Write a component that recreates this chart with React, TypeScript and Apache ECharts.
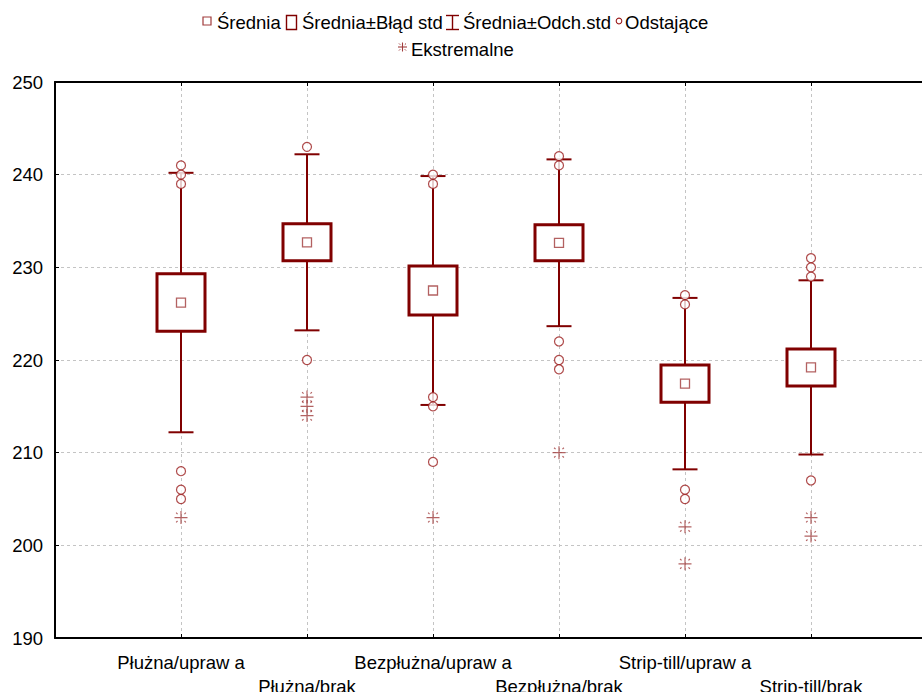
import React, { useEffect, useRef } from "react";
import * as echarts from "echarts";

// Groups (tillage / treatment)
const categories = [
  "Płużna/upraw a",
  "Płużna/brak",
  "Bezpłużna/upraw a",
  "Bezpłużna/brak",
  "Strip-till/upraw a",
  "Strip-till/brak",
];
const means = [226.2, 232.7, 227.5, 232.65, 217.45, 219.2];
const stdErrors = [3.1, 2.0, 2.65, 1.95, 2.0, 2.0];
const stdDevs = [14.0, 9.5, 12.35, 9.0, 9.25, 9.4];
const outliers = [
  [241, 240, 239, 208, 206, 205],
  [243, 220],
  [240, 239, 216, 215, 209],
  [242, 241, 222, 220, 219],
  [227, 226, 206, 205],
  [231, 230, 229, 207],
];
const extremes = [[203], [216, 215, 214], [203], [210], [202, 198], [203, 201]];
const yTicks = [190, 200, 210, 220, 230, 240, 250];

const DARK = "#800000";
const MEAN_C = "#a03a3a";
const OUT_C = "#9a1c1c";
const EXT_C = "#a03c3c";
const FONT = "Liberation Sans, Arial, sans-serif";
const FS = 18.5;

const ASTERISK =
  "path://M6 0L6 12M0 6L12 6M1.5 1.5L2.8 2.8M10.5 1.5L9.2 2.8M1.5 10.5L2.8 9.2M10.5 10.5L9.2 9.2";

export default function App() {
  const ref = useRef<HTMLDivElement>(null);

  useEffect(() => {
    if (!ref.current) return;
    const chart = echarts.init(ref.current, null, { renderer: "svg" });

    const pos = categories.map((_, i) => i + 1);
    const sdData = pos.map((x, i) => [x, means[i], stdDevs[i]]);
    const seData = pos.map((x, i) => [x, means[i], stdErrors[i]]);
    const meanData = pos.map((x, i) => [x, means[i]]);
    const outData: number[][] = [];
    outliers.forEach((arr, i) => arr.forEach((v) => outData.push([pos[i], v])));
    const extData: number[][] = [];
    extremes.forEach((arr, i) => arr.forEach((v) => extData.push([pos[i], v])));

    const gridLine = { show: true, lineStyle: { color: "#c4c4c4", type: [3, 3] as any, width: 1 } };
    const legendText = (text: string, x: number, y: number) => ({
      type: "text",
      x,
      y,
      style: { text, font: `${FS}px ${FONT}`, fill: "#000", verticalAlign: "middle" },
    });

    const option: any = {
      animation: false,
      backgroundColor: "#ffffff",
      grid: { left: 55, top: 82, width: 882, height: 556, containLabel: false, outerBoundsMode: "none" },
      xAxis: [
        {
          type: "value",
          position: "bottom",
          min: 0,
          max: 7,
          interval: 1,
          axisLine: { show: true, lineStyle: { color: "#000", width: 2 } },
          axisTick: { show: true, inside: true, length: 4, lineStyle: { color: "#000", width: 1 } },
          splitLine: gridLine,
          axisLabel: {
            show: true,
            margin: 12,
            fontFamily: FONT,
            fontSize: FS,
            color: "#000",
            lineHeight: 24,
            showMinLabel: false,
            showMaxLabel: false,
            hideOverlap: false,
            formatter: (v: number) => {
              const i = Math.round(v) - 1;
              if (i < 0 || i >= categories.length) return "";
              return i % 2 === 0 ? categories[i] : "\n" + categories[i];
            },
          },
        },
        {
          type: "value",
          position: "top",
          min: 0,
          max: 7,
          interval: 1,
          axisLine: { show: true, lineStyle: { color: "#000", width: 2 } },
          axisTick: { show: true, inside: true, length: 4, lineStyle: { color: "#000", width: 1 } },
          splitLine: { show: false },
          axisLabel: { show: false },
        },
      ],
      yAxis: {
        type: "value",
        min: yTicks[0],
        max: yTicks[yTicks.length - 1],
        interval: 10,
        axisLine: { show: true, lineStyle: { color: "#000", width: 2 } },
        axisTick: { show: true, inside: true, length: 4, lineStyle: { color: "#000", width: 1 } },
        splitLine: gridLine,
        axisLabel: { margin: 12, fontFamily: FONT, fontSize: FS, color: "#000" },
      },
      series: [
        {
          name: "Średnia±Odch.std",
          type: "custom",
          z: 3,
          data: sdData,
          renderItem: (_p: any, api: any) => {
            const x = api.value(0);
            const m = api.value(1);
            const sd = api.value(2);
            const hi = api.coord([x, m + sd]);
            const lo = api.coord([x, m - sd]);
            const cap = 12.5;
            const st = { stroke: DARK, lineWidth: 2 };
            return {
              type: "group",
              children: [
                { type: "line", shape: { x1: hi[0], y1: hi[1], x2: lo[0], y2: lo[1] }, style: st },
                { type: "line", shape: { x1: hi[0] - cap, y1: hi[1], x2: hi[0] + cap, y2: hi[1] }, style: st },
                { type: "line", shape: { x1: lo[0] - cap, y1: lo[1], x2: lo[0] + cap, y2: lo[1] }, style: st },
              ],
            };
          },
        },
        {
          name: "Średnia±Błąd std",
          type: "custom",
          z: 4,
          data: seData,
          renderItem: (_p: any, api: any) => {
            const x = api.value(0);
            const m = api.value(1);
            const se = api.value(2);
            const hi = api.coord([x, m + se]);
            const lo = api.coord([x, m - se]);
            const w = 48;
            return {
              type: "rect",
              shape: { x: hi[0] - w / 2, y: hi[1], width: w, height: lo[1] - hi[1] },
              style: { fill: "#ffffff", stroke: DARK, lineWidth: 3 },
            };
          },
        },
        {
          name: "Średnia",
          type: "scatter",
          z: 5,
          data: meanData,
          symbol: "rect",
          symbolSize: 9,
          itemStyle: { color: "#ffffff", borderColor: MEAN_C, borderWidth: 1.3 },
        },
        {
          name: "Odstające",
          type: "scatter",
          z: 6,
          data: outData,
          symbol: "circle",
          symbolSize: 9,
          itemStyle: { color: "#ffffff", borderColor: OUT_C, borderWidth: 1.2 },
        },
        {
          name: "Ekstremalne",
          type: "scatter",
          z: 6,
          data: extData,
          symbol: ASTERISK,
          symbolSize: 13,
          itemStyle: { color: "none", borderColor: EXT_C, borderWidth: 1.2 },
        },
      ],
      graphic: [
        // legend, first row
        { type: "rect", shape: { x: 203, y: 17, width: 8, height: 8 }, style: { fill: "#fff", stroke: MEAN_C, lineWidth: 1.2 } },
        legendText("Średnia", 217, 22),
        { type: "rect", shape: { x: 286.5, y: 15.5, width: 10, height: 14 }, style: { fill: "#fff", stroke: DARK, lineWidth: 1.4 } },
        legendText("Średnia±Błąd std", 302, 22),
        { type: "line", shape: { x1: 452.5, y1: 15.5, x2: 452.5, y2: 29.5 }, style: { stroke: DARK, lineWidth: 1.4 } },
        { type: "line", shape: { x1: 446, y1: 15.5, x2: 459, y2: 15.5 }, style: { stroke: DARK, lineWidth: 1.4 } },
        { type: "line", shape: { x1: 446, y1: 29.5, x2: 459, y2: 29.5 }, style: { stroke: DARK, lineWidth: 1.4 } },
        legendText("Średnia±Odch.std", 463, 22),
        { type: "circle", shape: { cx: 619, cy: 21, r: 2.8 }, style: { fill: "#fff", stroke: OUT_C, lineWidth: 1.1 } },
        legendText("Odstające", 625, 22),
        // legend, second row
        {
          type: "group",
          x: 402.5,
          y: 47,
          children: [
            { type: "line", shape: { x1: 0, y1: -4.5, x2: 0, y2: 4.5 }, style: { stroke: EXT_C, lineWidth: 1.1 } },
            { type: "line", shape: { x1: -4.5, y1: 0, x2: 4.5, y2: 0 }, style: { stroke: EXT_C, lineWidth: 1.1 } },
            { type: "line", shape: { x1: -3.5, y1: -3.5, x2: -2.3, y2: -2.3 }, style: { stroke: EXT_C, lineWidth: 1 } },
            { type: "line", shape: { x1: 3.5, y1: -3.5, x2: 2.3, y2: -2.3 }, style: { stroke: EXT_C, lineWidth: 1 } },
            { type: "line", shape: { x1: -3.5, y1: 3.5, x2: -2.3, y2: 2.3 }, style: { stroke: EXT_C, lineWidth: 1 } },
            { type: "line", shape: { x1: 3.5, y1: 3.5, x2: 2.3, y2: 2.3 }, style: { stroke: EXT_C, lineWidth: 1 } },
          ],
        },
        legendText("Ekstremalne", 411, 49),
      ],
    };

    chart.setOption(option);
    return () => chart.dispose();
  }, []);

  return (
    <div
      ref={ref}
      style={{ position: "fixed", left: 0, top: 0, width: 922, height: 692, background: "#fff" }}
    />
  );
}
